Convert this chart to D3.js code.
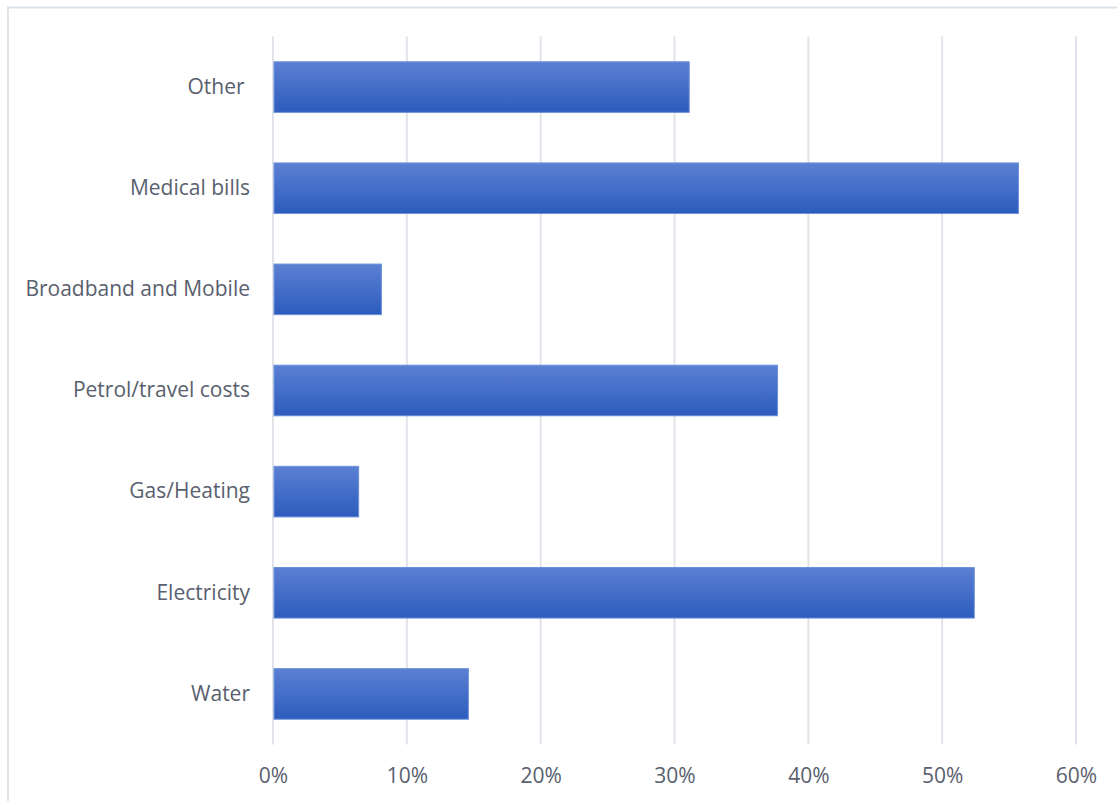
<!DOCTYPE html>
<html><head><meta charset="utf-8">
<script src="https://cdn.jsdelivr.net/npm/d3@7"></script>
<style>body{margin:0;background:#fff;}svg{display:block;}</style>
</head><body>
<svg id="c" width="1117" height="801"></svg>
<script>
const categories = ["Other\u00a0","Medical bills","Broadband and Mobile","Petrol/travel costs","Gas/Heating","Electricity","Water"];
const values = [0.311, 0.557, 0.081, 0.377, 0.064, 0.524, 0.146];
const tickValues = [0,0.1,0.2,0.3,0.4,0.5,0.6];

const svg = d3.select("#c");
const W=1117,H=801;
const m={left:273,right:41,top:36.5,bottom:56.5};
const defs = svg.append("defs");
const g = defs.append("linearGradient").attr("id","bg").attr("x1",0).attr("y1",0).attr("x2",0).attr("y2",1);
g.append("stop").attr("offset","0%").attr("stop-color","#5b80d3");
g.append("stop").attr("offset","100%").attr("stop-color","#2d5cbd");

svg.append("rect").attr("x",8).attr("y",7.5).attr("width",W+10).attr("height",H+10)
  .attr("fill","none").attr("stroke","#dde3ea").attr("stroke-width",2);

const x = d3.scaleLinear().domain([0,0.6]).range([m.left, W-m.right]);
const y = d3.scaleBand().domain(categories).range([m.top, H-m.bottom]).paddingInner(0.5).paddingOuter(0.25);

svg.append("g").selectAll("line").data(tickValues).join("line")
  .attr("x1",d=>x(d)).attr("x2",d=>x(d)).attr("y1",m.top).attr("y2",H-m.bottom)
  .attr("stroke","#e0e4ea").attr("stroke-width",2);

svg.append("g").selectAll("rect").data(categories).join("rect")
  .attr("x",x(0)+1).attr("y",d=>y(d))
  .attr("width",(d,i)=>x(values[i])-x(0)-1).attr("height",y.bandwidth())
  .attr("fill","url(#bg)").attr("stroke","#6c90dc").attr("stroke-width",1);

const font = "'Open Sans', sans-serif";
const xa = d3.axisBottom(x).tickValues(tickValues).tickFormat(d3.format(".0%")).tickSize(0).tickPadding(0);
const xg = svg.append("g").attr("transform",`translate(0,${H-m.bottom})`).call(xa);
xg.select(".domain").remove();
xg.selectAll("text").attr("dy",0).attr("y",38.5).attr("font-family",font).attr("font-size",21).attr("fill","#59606e");

const ya = d3.axisLeft(y).tickSize(0).tickPadding(23);
const yg = svg.append("g").attr("transform",`translate(${m.left},0)`).call(ya);
yg.select(".domain").remove();
yg.selectAll("text").attr("font-family",font).attr("font-size",21).attr("fill","#59606e");
</script>
</body></html>
